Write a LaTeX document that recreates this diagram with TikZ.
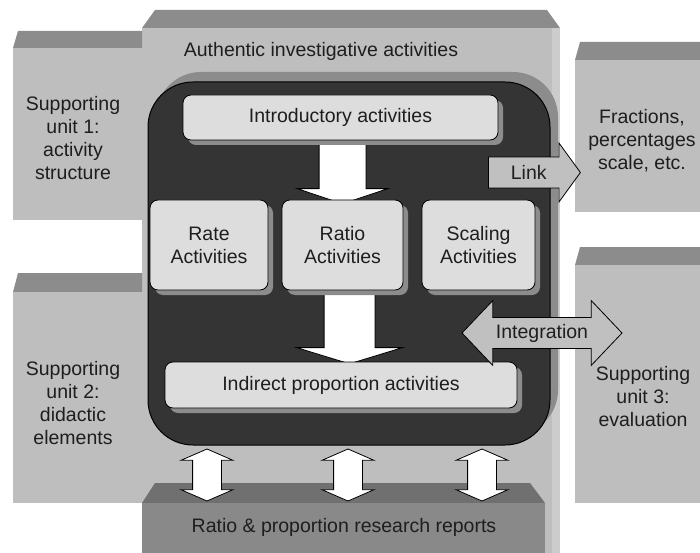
\documentclass[tikz,border=0pt]{standalone}
\usepackage{fontspec}
\setmainfont{Liberation Sans}
\usepackage{xcolor}
\usetikzlibrary{shapes.arrows,shadows}

\definecolor{facegray}{RGB}{190,190,190}
\definecolor{lidgray}{RGB}{140,140,140}
\definecolor{edgegray}{RGB}{204,204,204}
\definecolor{coregray}{RGB}{52,52,52}
\definecolor{rimgray}{RGB}{140,140,140}
\definecolor{cardgray}{RGB}{221,221,221}
\definecolor{basegray}{RGB}{137,137,137}
\definecolor{baselid}{RGB}{112,112,112}
\definecolor{flowgray}{RGB}{192,192,192}
\definecolor{inkgray}{RGB}{30,30,30}

\pgfdeclarelayer{front}
\pgfsetlayers{main,front}

\begin{document}
\begin{tikzpicture}[x=1pt, y=-1pt,
    every node/.style={font=\fontsize{19.5}{23}\selectfont, text=inkgray, align=center},
    lid/.style={fill=lidgray},
    face/.style={fill=facegray},
    card/.style={rectangle, rounded corners=8pt, fill=cardgray, draw=black,
                 line width=0.8pt, inner sep=0pt,
                 drop shadow={shadow xshift=5pt, shadow yshift=-5pt, fill=rimgray, opacity=1}},
    core/.style={rectangle, rounded corners=45pt, fill=coregray, draw=black, line width=1pt,
                 drop shadow={shadow xshift=8pt, shadow yshift=10pt, fill=rimgray, opacity=1}},
    downflow/.style={single arrow, shape border rotate=270, fill=white, draw=black,
                     line width=0.8pt, anchor=tail},
    bothflow/.style={double arrow, shape border rotate=90, fill=white, draw=black,
                     line width=0.8pt, inner sep=14pt, minimum height=52pt,
                     double arrow head extend=11.5pt, double arrow tip angle=133},
    sideflow/.style={fill=flowgray, draw=black, line width=0.8pt, inner xsep=0pt}]

  \clip (0,0) rectangle (700,553);

  %% outer frame: authentic activities
  \fill[lid] (155,10) -- (547,10) -- (560,28) -- (142,28) -- cycle;
  \fill[edgegray] (552,28) rectangle (560,553);
  \fill[face] (142,28) rectangle (552,553);
  \node (auth) at (321,51) {Authentic investigative activities};

  %% supporting units, left and right
  \fill[lid] (18,31) -- (142,31) -- (142,48) -- (13,48) -- cycle;
  \fill[face] (13,48) rectangle (142,220);
  \node (unit1) at (73,138) {Supporting\\unit 1:\\activity\\structure};

  \fill[lid] (18,273) -- (142,273) -- (142,292) -- (13,292) -- cycle;
  \fill[face] (13,292) rectangle (142,503);
  \node (unit2) at (73,403) {Supporting\\unit 2:\\didactic\\elements};

  \fill[lid] (580,42) -- (705,42) -- (705,60) -- (575,60) -- cycle;
  \fill[face] (575,60) rectangle (705,212);
  \node (fract) at (642,141) {Fractions,\\percentages\\scale, etc.};

  \fill[lid] (580,247) -- (705,247) -- (705,265) -- (575,265) -- cycle;
  \fill[face] (575,265) rectangle (705,503);
  \node (unit3) at (643,397) {Supporting\\unit 3:\\evaluation};

  %% research base
  \fill[baselid] (155,483) -- (530,483) -- (545,503) -- (142,503) -- cycle;
  \fill[basegray] (142,503) rectangle (545,553);
  \node (reports) at (344,527) {Ratio \& proportion research reports};

  %% dark core
  \node[core, minimum width=402pt, minimum height=363pt] (core) at (349,263.5) {};

  \begin{pgfonlayer}{front}
    %% activity cards
    \node[card, minimum width=315pt, minimum height=45pt] (intro) at (340.5,117.5)
      {Introductory activities};
    \node[card, minimum width=118pt, minimum height=90pt] (rate) at (209,245)
      {Rate\\Activities};
    \node[card, minimum width=121pt, minimum height=90pt] (ratio) at (342.5,245)
      {Ratio\\Activities};
    \node[card, minimum width=113pt, minimum height=90pt] (scaling) at (478.5,245)
      {Scaling\\Activities};
    \node[card, minimum width=352pt, minimum height=46pt] (indirect) at (341,385)
      {Indirect proportion activities};

    %% links outwards
    \node[sideflow, single arrow, anchor=tail, inner ysep=8pt, minimum height=92pt,
          single arrow head extend=14pt, single arrow tip angle=108] (link) at (488,172.5)
      {Link};
    \node[sideflow, double arrow, inner ysep=6pt, minimum height=160pt,
          double arrow head extend=17pt, double arrow tip angle=93] (integ) at (542,333)
      {Integration};
  \end{pgfonlayer}

  %% flow through the core
  \node[downflow, inner sep=23pt, minimum height=63pt,
        single arrow head extend=22pt, single arrow tip angle=143] (flow1)
        at (intro.south -| ratio.north) {};
  \node[downflow, inner sep=25pt, minimum height=73pt, xshift=7pt,
        single arrow head extend=27.5pt, single arrow tip angle=146] (flow2)
        at (ratio.south) {};

  %% exchange with the research reports
  \node[bothflow] (feed1) at (207,475) {};
  \node[bothflow] (feed2) at (348,475) {};
  \node[bothflow] (feed3) at (482,475) {};
\end{tikzpicture}
\end{document}
